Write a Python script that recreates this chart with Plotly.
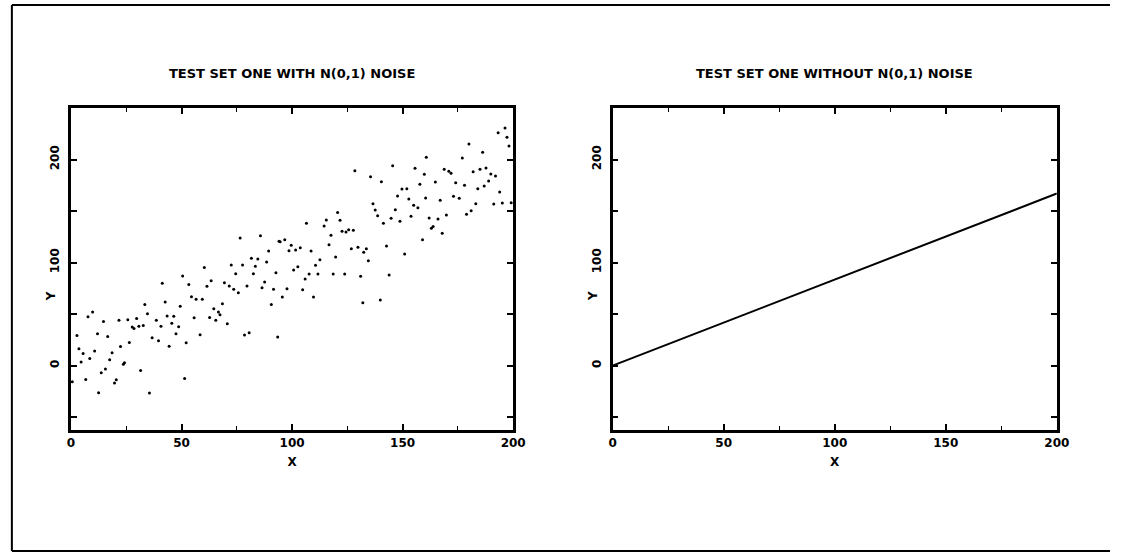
import plotly.graph_objects as go
from plotly.subplots import make_subplots

# noisy test set
noisy_x = [
    41.3, 42.6, 33.4, 34.6, 9.8, 7.7, 2.7, 14.7, 21.7, 25.7, 29.7, 27.7, 28.5, 30.7, 32.7,
    38.6, 40.7, 45.6, 43.5, 46.5, 12.0, 16.6, 3.6, 5.5, 10.7, 8.5, 4.6, 22.4, 26.4, 18.6,
    17.5, 24.2, 23.7, 15.6, 13.7, 6.7, 31.5, 20.5, 19.7, 12.5, 35.5, 36.7, 39.6, 44.4, 0.6,
    85.7, 76.5, 94.1, 89.4, 81.6, 84.5, 88.5, 72.5, 77.6, 83.4, 60.3, 74.5, 82.5, 92.7, 50.5,
    63.4, 87.6, 69.4, 53.3, 61.5, 71.6, 79.6, 73.6, 75.7, 86.4, 91.6, 54.5, 56.6, 59.4, 49.4,
    68.5, 64.6, 66.7, 67.4, 62.7, 65.5, 55.7, 48.7, 70.7, 90.6, 47.5, 58.4, 52.1, 78.5, 80.6,
    93.5, 51.4,
    128.4, 135.5, 140.4, 136.6, 137.6, 138.7, 141.3, 120.6, 115.5, 121.7, 106.5, 114.5, 122.6,
    124.4, 125.6, 127.7, 117.6, 116.7, 94.6, 96.7, 99.6, 103.7, 98.6, 101.6, 108.6, 126.8,
    129.8, 133.6, 132.4, 134.5, 112.6, 110.6, 119.7, 102.6, 100.7, 107.7, 111.7, 118.6, 123.8,
    131.0, 105.9, 97.7, 104.8, 95.6, 109.7, 132.0, 139.9,
    180.0, 186.2, 160.7, 177.0, 145.5, 155.6, 168.8, 170.9, 171.9, 181.9, 185.0, 187.7, 159.8,
    157.8, 164.8, 174.0, 178.0, 184.0, 186.9, 149.7, 151.9, 147.7, 160.4, 152.8, 167.0, 173.0,
    175.6, 183.1, 181.0, 178.9, 155.0, 156.9, 146.7, 144.8, 148.8, 153.8, 162.0, 166.0, 169.8,
    163.8, 163.0, 167.9, 159.0, 142.7, 150.9, 143.9,
    196.3, 193.2, 197.2, 198.1, 189.9, 192.0, 188.9, 193.9, 191.2, 195.1, 199.1,
]
noisy_y = [
    79.8, 61.7, 59.4, 50.3, 51.9, 47.4, 29.3, 42.9, 43.9, 44.5, 45.8, 37.4, 36.1, 38.1, 39.0,
    43.9, 38.1, 41.0, 48.1, 47.9, 30.9, 28.3, 16.3, 11.8, 14.1, 7.0, 3.4, 18.6, 22.5, 12.4,
    5.6, 2.7, 1.2, -3.4, -7.0, -13.4, -4.7, -13.8, -17.0, -26.4, -26.7, 27.0, 24.1, 18.9, -15.7,
    126.0, 123.8, 120.6, 111.2, 104.1, 103.4, 100.5, 97.6, 97.6, 96.3, 95.3, 89.1, 89.1, 90.1, 86.9,
    82.3, 81.1, 80.4, 78.8, 76.9, 77.2, 77.2, 74.0, 70.7, 75.5, 74.0, 66.8, 64.3, 64.3, 57.5,
    60.0, 55.1, 51.9, 49.3, 46.8, 43.9, 46.4, 37.7, 40.6, 59.4, 30.9, 29.9, 22.1, 29.6, 31.8,
    27.7, -12.4,
    189.1, 183.3, 178.4, 157.1, 151.0, 145.4, 138.1, 148.7, 141.3, 141.0, 138.1, 135.4, 130.3,
    129.6, 131.8, 131.3, 126.4, 117.3, 120.2, 122.1, 116.7, 114.4, 111.5, 112.1, 111.2, 113.4,
    114.8, 113.4, 109.9, 101.7, 102.7, 97.3, 105.3, 95.9, 92.7, 88.8, 88.8, 88.8, 88.8,
    86.6, 84.0, 74.6, 73.6, 66.5, 66.5, 61.0, 63.6,
    215.0, 207.0, 202.1, 201.5, 194.0, 191.5, 190.5, 188.5, 186.6, 188.2, 190.5, 191.7, 185.6,
    175.9, 178.2, 177.5, 175.0, 171.7, 174.3, 171.4, 171.7, 164.6, 162.6, 161.7, 160.4, 164.3,
    162.3, 157.1, 150.3, 146.8, 155.5, 153.2, 151.3, 142.9, 140.0, 144.9, 143.2, 142.2, 146.1,
    135.1, 133.2, 128.4, 122.1, 116.0, 108.3, 87.9,
    230.6, 226.0, 221.6, 213.1, 185.9, 184.0, 179.1, 168.4, 156.8, 157.8, 158.1,
]

# noise-free test set (right panel)
clean_x = [0, 200]
clean_y = [0, 167]

titles = ["TEST SET ONE WITH N(0,1) NOISE", "TEST SET ONE WITHOUT N(0,1) NOISE"]

FONT = "DejaVu Sans, Arial, sans-serif"
W, H = 1123, 553

fig = make_subplots(rows=1, cols=2)

fig.add_trace(go.Scatter(x=noisy_x, y=noisy_y, mode="markers",
                         marker=dict(color="black", size=3),
                         showlegend=False), row=1, col=1)
fig.add_trace(go.Scatter(x=clean_x, y=clean_y, mode="lines",
                         line=dict(color="black", width=2),
                         showlegend=False), row=1, col=2)

# panel positions in pixels -> paper fractions
left_dom = [68 / W, 517 / W]
right_dom = [618 / W, 1069 / W]
y_dom = [1 - 430 / H, 1 - 108 / H]

axis_common = dict(
    showline=True, linecolor="black", linewidth=2.5, mirror="ticks",
    ticks="inside", tickcolor="black", tickwidth=1.5, ticklen=6,
    showgrid=False, zeroline=False,
    tickfont=dict(family=FONT, size=12, color="black", weight="bold"),
)

for i, dom in enumerate([left_dom, right_dom], start=1):
    fig.update_xaxes(
        domain=dom, range=[0, 200], tick0=0, dtick=50,
        minor=dict(dtick=25, ticks="inside", ticklen=4, tickcolor="black", tickwidth=1),
        title=dict(text="X", standoff=9,
                   font=dict(family=FONT, size=12, color="black", weight="bold")),
        **axis_common, row=1, col=i)
    fig.update_yaxes(
        domain=y_dom, range=[-62.5, 250], tick0=0, dtick=100, tickangle=-90,
        ticklabelstandoff=4,
        minor=dict(dtick=50, ticks="inside", ticklen=6, tickcolor="black", tickwidth=2),
        **axis_common, row=1, col=i)

# panel titles
for text, dom in zip(titles, [left_dom, right_dom]):
    fig.add_annotation(text=text, xref="paper", yref="paper",
                       x=(dom[0] + dom[1]) / 2, y=1 - 73 / H,
                       showarrow=False, xanchor="center", yanchor="middle",
                       font=dict(family=FONT, size=13, color="black", weight="bold"))

# Y axis labels, rotated, sitting just under the "100" tick label
for xpix in [48, 598]:
    fig.add_annotation(text="Y", xref="paper", yref="paper",
                       x=xpix / W, y=1 - 296 / H, textangle=-90,
                       showarrow=False, xanchor="center", yanchor="middle",
                       font=dict(family=FONT, size=12, color="black", weight="bold"))

# outer frame: left, top and bottom edges only (right edge is off the page)
fx0, fy_top, fy_bot = 8 / W, 1 - 5 / H, 1 - 551 / H
frame = dict(type="line", xref="paper", yref="paper", line=dict(color="black", width=2))
fig.add_shape(x0=fx0, x1=fx0, y0=fy_bot, y1=fy_top, **frame)
fig.add_shape(x0=fx0, x1=1, y0=fy_top, y1=fy_top, **frame)
fig.add_shape(x0=fx0, x1=1, y0=fy_bot, y1=fy_bot, **frame)

fig.update_layout(
    width=W, height=H,
    margin=dict(l=0, r=0, t=0, b=0),
    paper_bgcolor="white", plot_bgcolor="white",
    font=dict(family=FONT, color="black"),
)

page_fix = (
    "document.documentElement.style.overflow = 'hidden';"
    "document.body.style.overflow = 'hidden';"
    "document.body.style.margin = '0px';"
)
fig.write_html("out.html", config={"displayModeBar": False}, post_script=page_fix)
